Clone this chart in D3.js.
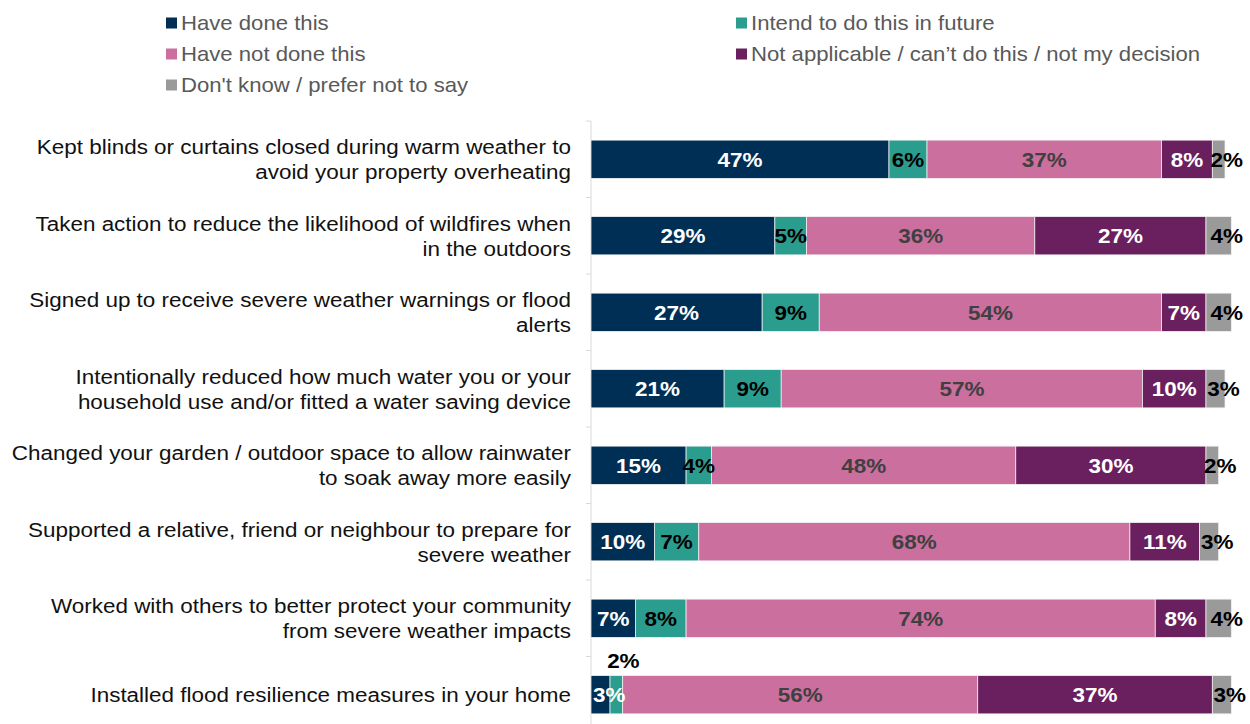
<!DOCTYPE html>
<html>
<head>
<meta charset="utf-8">
<script src="https://cdn.jsdelivr.net/npm/d3@7"></script>
<style>
  html, body { margin: 0; padding: 0; background: #ffffff; }
  svg { display: block; font-family: Arial, "Liberation Sans", sans-serif; }
</style>
</head>
<body>
<svg id="chart" width="1250" height="724"></svg>
<script>
// Survey statements (line breaks mark where each label wraps)
const categories = [
  "Kept blinds or curtains closed during warm weather to\navoid your property overheating",
  "Taken action to reduce the likelihood of wildfires when\nin the outdoors",
  "Signed up to receive severe weather warnings or flood\nalerts",
  "Intentionally reduced how much water you or your\nhousehold use and/or fitted a water saving device",
  "Changed your garden / outdoor space to allow rainwater\nto soak away more easily",
  "Supported a relative, friend or neighbour to prepare for\nsevere weather",
  "Worked with others to better protect your community\nfrom severe weather impacts",
  "Installed flood resilience measures in your home"
];

const seriesNames = [
  "Have done this",
  "Intend to do this in future",
  "Have not done this",
  "Not applicable / can\u2019t do this / not my decision",
  "Don't know / prefer not to say"
];

// Percentages per statement, one array per response
const haveDone      = [47, 29, 27, 21, 15, 10, 7, 3];
const intendTo      = [6, 5, 9, 9, 4, 7, 8, 2];
const haveNotDone   = [37, 36, 54, 57, 48, 68, 74, 56];
const notApplicable = [8, 27, 7, 10, 30, 11, 8, 37];
const dontKnow      = [2, 4, 4, 3, 2, 3, 4, 3];

const seriesValues = [haveDone, intendTo, haveNotDone, notApplicable, dontKnow];

const colors     = ["#002F56", "#2A9D8F", "#CB6F9F", "#6A1F5F", "#9A9A9A"];
const textColors = ["#FFFFFF", "#000000", "#404040", "#FFFFFF", "#000000"];

// Slightly wide lettering
const SX = 1.07;

// Table for d3.stack
const rows = categories.map((c, i) => {
  const r = { category: c };
  seriesNames.forEach((s, j) => { r[s] = seriesValues[j][i]; });
  return r;
});

const svg = d3.select("#chart");

const x = d3.scaleLinear().domain([0, 100]).range([591, 1225]);
const y = d3.scaleBand().domain(categories).range([121, 733])
  .paddingInner(0.5).paddingOuter(0.25);

const stacked = d3.stack().keys(seriesNames)(rows);

// Axis line with ticks at the boundaries between statements
const axisG = svg.append("g");
axisG.append("line")
  .attr("x1", x(0)).attr("x2", x(0))
  .attr("y1", y.range()[0]).attr("y2", y.range()[1])
  .attr("stroke", "#D9D9D9").attr("stroke-width", 1);
d3.range(categories.length + 1).forEach(i => {
  const yy = y.range()[0] + i * y.step();
  axisG.append("line")
    .attr("x1", x(0) - 5).attr("x2", x(0))
    .attr("y1", yy).attr("y2", yy)
    .attr("stroke", "#D9D9D9").attr("stroke-width", 1);
});

// Bars
const layers = svg.append("g").selectAll("g")
  .data(stacked).join("g")
  .attr("fill", (d, i) => colors[i]);

layers.selectAll("rect")
  .data(d => d.map(p => ({ p, key: d.key })))
  .join("rect")
  .attr("x", d => x(d.p[0]))
  .attr("y", d => y(d.p.data.category))
  .attr("width", d => x(d.p[1]) - x(d.p[0]))
  .attr("height", y.bandwidth())
  .attr("stroke", "#F2F2F2")
  .attr("stroke-width", 0.75);

// Value labels
const labelG = svg.append("g")
  .attr("font-size", 21).attr("font-weight", "bold");

stacked.forEach((layer, si) => {
  layer.forEach(p => {
    const v = p[1] - p[0];
    const cy = y(p.data.category) + y.bandwidth() / 2;
    let cx = (x(p[0]) + x(p[1])) / 2;
    let ty = cy;
    let fill = textColors[si];
    const last = si === seriesNames.length - 1;
    if (last) {
      cx += 8;
    } else if (v < 3) {
      // too narrow to hold its label: place it above the bar
      cx += 7;
      ty = y(p.data.category) - 15;
      fill = "#000000";
    }
    const t = labelG.append("text")
      .attr("x", 0).attr("y", 0)
      .attr("dy", "0.35em")
      .attr("text-anchor", "middle")
      .attr("fill", fill)
      .text(v + "%");
    // keep labels inside the plot area
    const w = t.node().getComputedTextLength() * SX;
    if (cx - w / 2 < x(0) + 2) cx = x(0) + 2 + w / 2;
    t.attr("transform", `translate(${cx},${ty}) scale(${SX},1)`);
  });
});

// Category labels
const catG = svg.append("g")
  .attr("font-size", 21).attr("fill", "#111111").attr("text-anchor", "end");
categories.forEach(c => {
  const lines = c.split("\n");
  const cy = y(c) + y.bandwidth() / 2;
  const lh = 25;
  const t = catG.append("text")
    .attr("transform", `translate(571,${cy}) scale(${SX},1)`);
  lines.forEach((ln, k) => {
    t.append("tspan")
      .attr("x", 0)
      .attr("y", (k - (lines.length - 1) / 2) * lh)
      .attr("dy", "0.35em")
      .text(ln);
  });
});

// Legend
const legendPos = [
  [166, 23], [736, 23],
  [166, 54], [736, 54],
  [166, 85]
];
const legG = svg.append("g").attr("font-size", 20.5).attr("fill", "#595959");
seriesNames.forEach((s, i) => {
  const [lx, ly] = legendPos[i];
  legG.append("rect")
    .attr("x", lx).attr("y", ly - 5.5)
    .attr("width", 11).attr("height", 11)
    .attr("fill", colors[i]);
  legG.append("text")
    .attr("transform", `translate(${lx + 15},${ly}) scale(1.08,1)`)
    .attr("dy", "0.35em")
    .text(s);
});
</script>
</body>
</html>
